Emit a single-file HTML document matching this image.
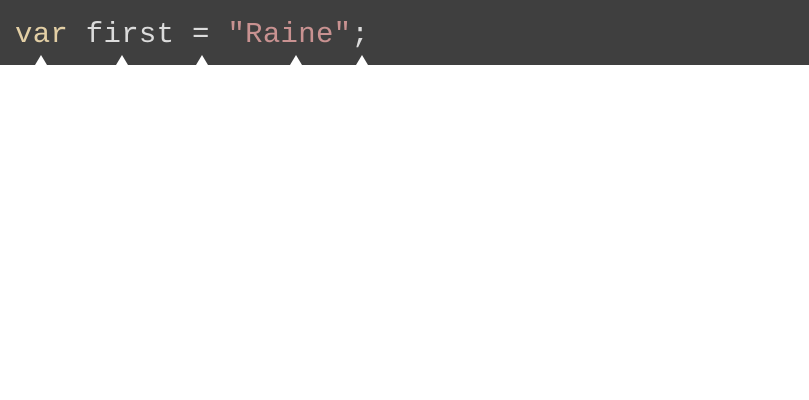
<!DOCTYPE html>
<html><head><style>
html,body{margin:0;padding:0;width:809px;height:400px;background:#fff;overflow:hidden}
.bar{position:absolute;left:0;top:0;width:809px;height:65px;background:#3f3f3f}
.code{position:absolute;left:15px;top:17px;font-family:"Liberation Mono",monospace;font-size:29px;letter-spacing:0.3px;line-height:36px;color:#dcdcdc;white-space:pre}
.k{color:#e3cfa5}.s{color:#c99291}
.t{position:absolute;top:55px;width:0;height:0;border-left:6px solid transparent;border-right:6px solid transparent;border-bottom:10px solid #fff}
</style></head><body>
<div class="bar"></div>
<div class="code"><span class="k">var</span> first = <span class="s">"Raine"</span>;</div>
<div class="t" style="left:35px"></div>
<div class="t" style="left:116px"></div>
<div class="t" style="left:196px"></div>
<div class="t" style="left:290px"></div>
<div class="t" style="left:356px"></div>
</body></html>
